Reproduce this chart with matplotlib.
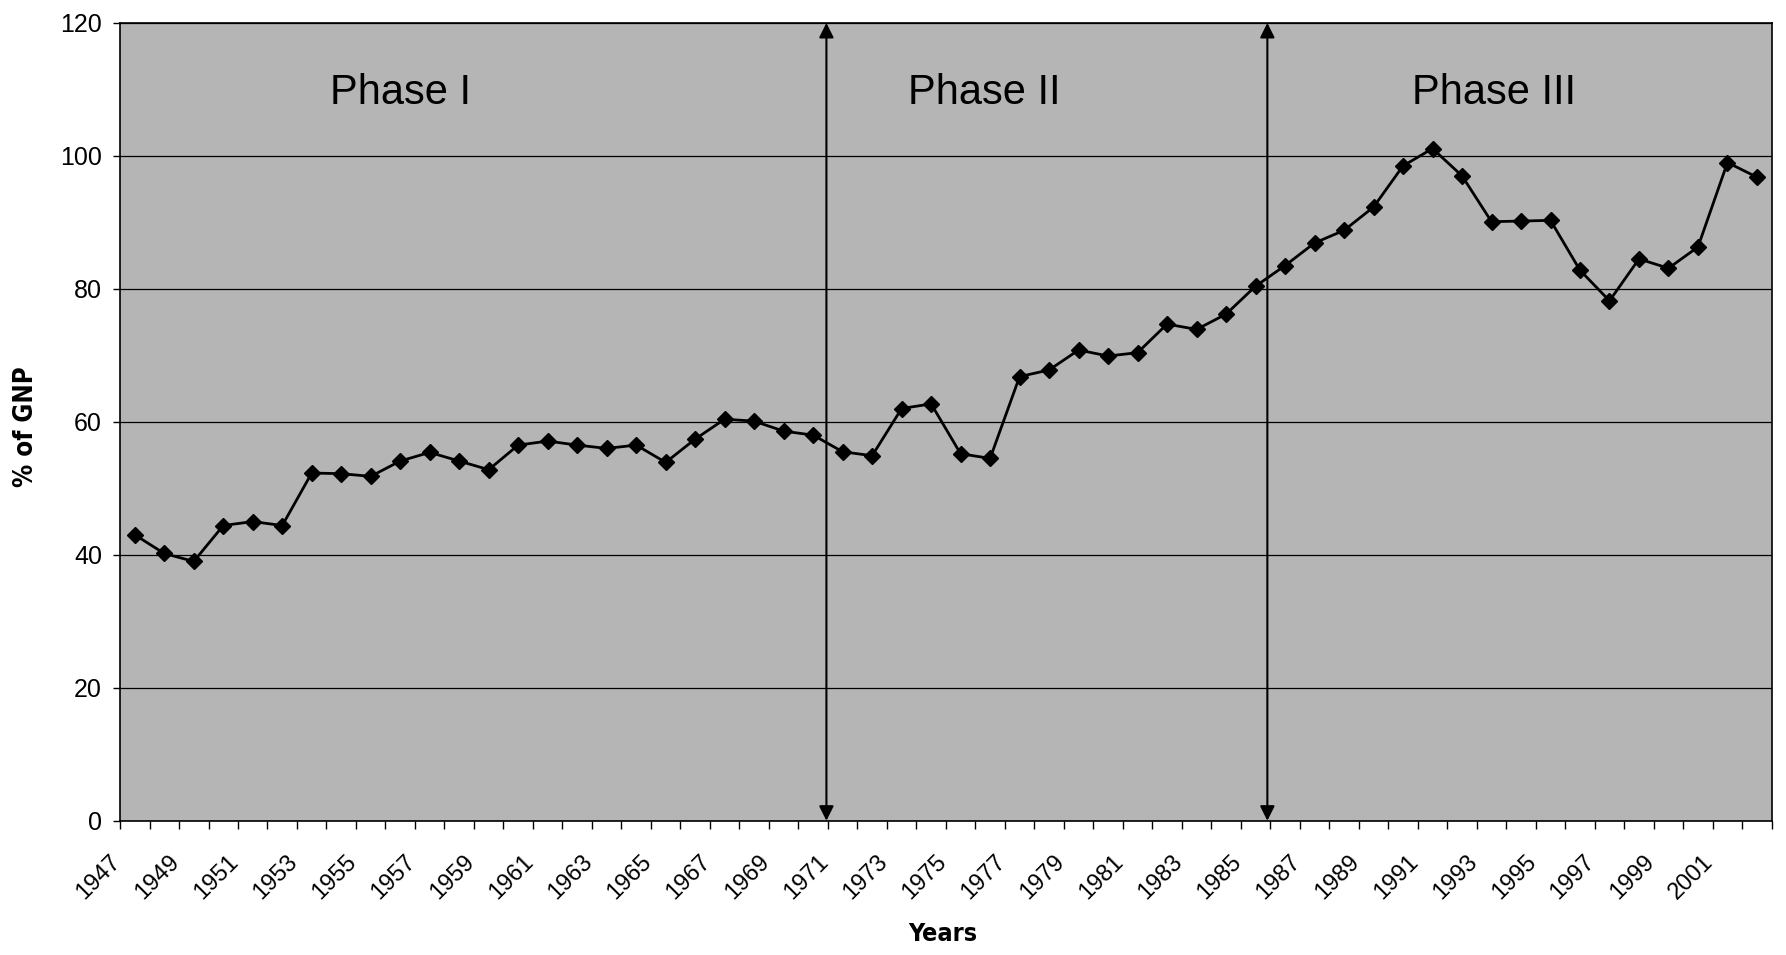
import matplotlib
matplotlib.use("Agg")
import matplotlib.pyplot as plt
import matplotlib.transforms as mtransforms
import numpy as np

years = list(range(1947, 2003))
values = [43.0, 40.2, 39.0, 44.4, 45.0, 44.4, 52.3, 52.2, 51.8, 54.1, 55.4, 54.1, 52.8, 56.5,
          57.1, 56.5, 56.0, 56.5, 53.9, 57.4, 60.4, 60.1, 58.6, 58.0, 55.5, 54.9, 62.0, 62.7,
          55.2, 54.5, 66.8, 67.8, 70.8, 69.9, 70.4, 74.7, 73.9, 76.2, 80.4, 83.5, 86.9, 88.8,
          92.3, 98.5, 101.1, 97.0, 90.1, 90.2, 90.3, 82.8, 78.2, 84.5, 83.1, 86.3, 99.0, 96.8]
tick_labels = [str(y) for y in years[::2]]
phase_names = ["Phase I", "Phase II", "Phase III"]
phase_label_pos = [9.0, 28.8, 46.1]
phase_dividers = [23.45, 38.4]

W, H = 1786, 955
fig = plt.figure(figsize=(W / 100, H / 100), dpi=100)
ax = fig.add_axes([0.0672, 0.1406, 0.9248, 0.8354])
ax.set_facecolor("#b5b5b5")

x = np.arange(len(years))
ax.plot(x, values, color="black", lw=2, marker="D", ms=8, mfc="black", mec="black", zorder=5)

ax.set_xlim(-0.5, len(years) - 0.5)
ax.set_ylim(0, 120)
ax.set_yticks(np.arange(0, 121, 20))
ax.yaxis.grid(True, color="black", lw=0.9)
ax.set_axisbelow(True)

# category boundaries as tick marks
ax.set_xticks(np.arange(-0.5, len(years), 1.0))
ax.set_xticklabels([])
ax.tick_params(axis="x", which="major", length=6, width=1, direction="out")
ax.tick_params(axis="y", length=5, width=1, direction="out", labelsize=18, pad=8)
for t in ax.get_yticklabels():
    t.set_family(["Liberation Sans", "DejaVu Sans"])

# rotated category labels on every other year
base = mtransforms.blended_transform_factory(ax.transData, ax.transAxes)
off = mtransforms.ScaledTranslation(-10 / 100, -30 / 100, fig.dpi_scale_trans)
for xi, lab in zip(x[::2], tick_labels):
    ax.text(xi, 0, lab, transform=base + off, rotation=45, ha="right", va="top",
            fontsize=17, family=["Liberation Sans", "DejaVu Sans"], clip_on=False)

for sp in ax.spines.values():
    sp.set_color("black")
    sp.set_linewidth(1.2)

for xv in phase_dividers:
    ax.annotate("", xy=(xv, 0), xytext=(xv, 120),
                arrowprops=dict(arrowstyle="<|-|>", color="black", lw=1.5,
                                mutation_scale=22, shrinkA=0, shrinkB=0), zorder=4)

for name, px in zip(phase_names, phase_label_pos):
    ax.text(px, 107.8, name, ha="center", va="baseline", fontsize=30,
            family=["Liberation Sans", "DejaVu Sans"])

fig.text(26 / W, 1 - 427 / H, "% of GNP", rotation=90, ha="center", va="center",
         fontsize=18.5, fontweight="bold", fontstretch="condensed", family=["DejaVu Sans"])
fig.text(943 / W, 1 - 934 / H, "Years", ha="center", va="center",
         fontsize=18, fontweight="bold", fontstretch="condensed", family=["DejaVu Sans"])

fig.savefig("out.png", dpi=100, facecolor="white")
